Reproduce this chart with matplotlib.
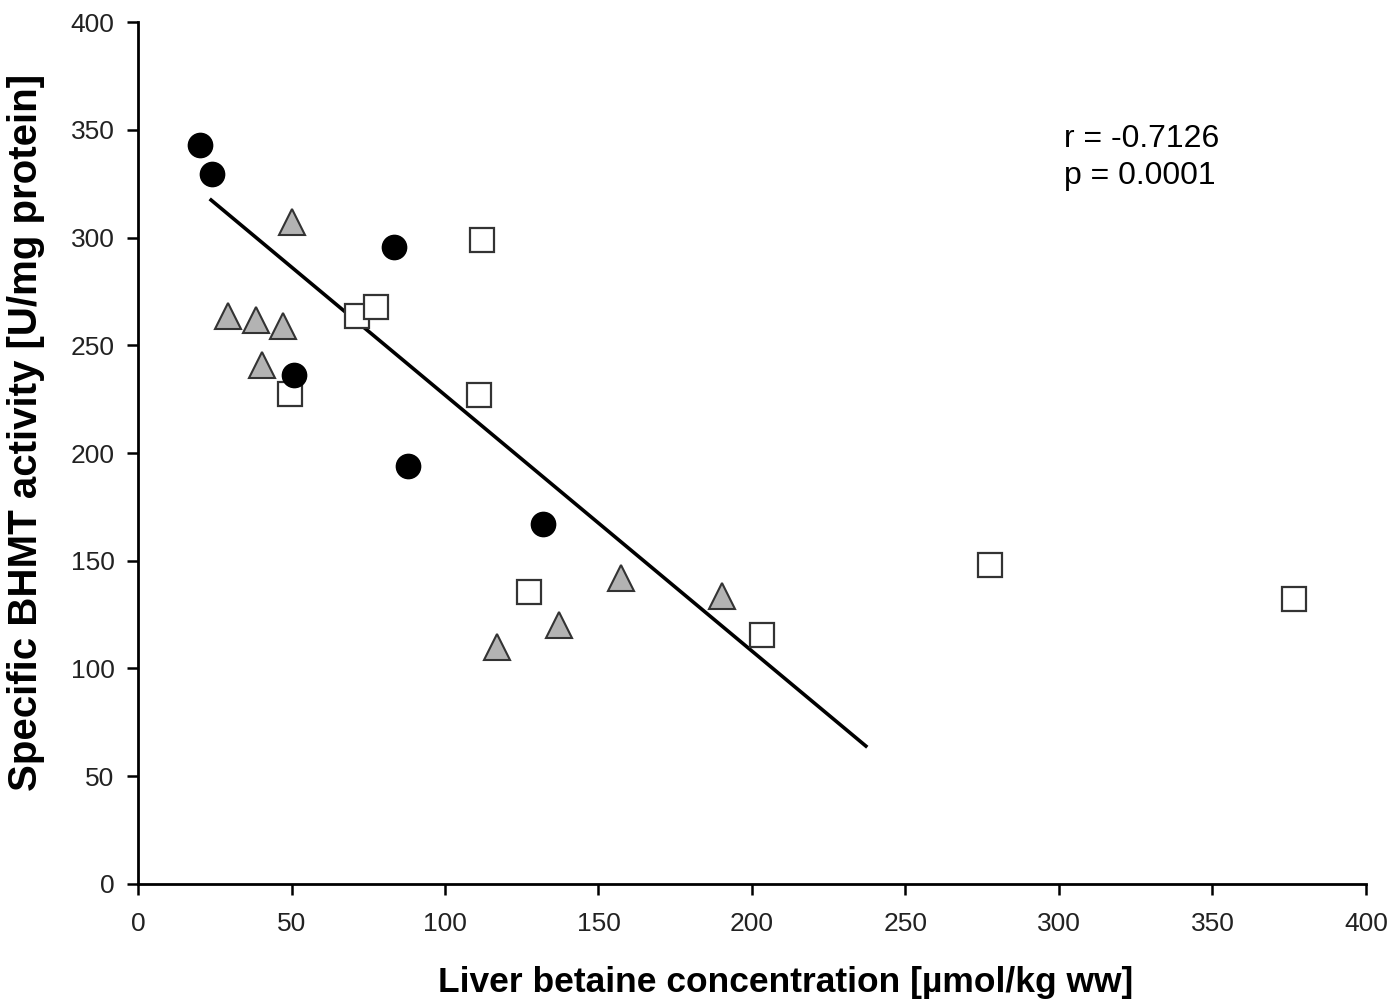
import numpy as np
import matplotlib.pyplot as plt

plt.rcParams['font.family'] = ['Liberation Sans', 'DejaVu Sans']

# filled circles
circ_x = [20.2, 24.1, 83.4, 50.8, 87.9, 131.9]
circ_y = [343, 329.5, 295.6, 236, 194, 167]

# grey triangles
tri_x = [50.2, 29.3, 38.4, 47.2, 40.4, 116.9, 137.1, 157.3, 190.2]
tri_y = [307, 263.5, 261.5, 259, 241, 110, 120.2, 142, 133.5]

# open squares
sq_x = [112, 71.3, 77.5, 49.5, 111, 127.4, 203.3, 277.5, 376.5]
sq_y = [298.8, 263.6, 267.7, 227.4, 227, 135.5, 115.5, 148, 132.3]

# regression line end points
fit_x = [23.8, 237.1]
fit_y = [317.4, 64]

fig = plt.figure(figsize=(13.9, 10.02), dpi=100)
ax = fig.add_axes([0.0993, 0.1178, 0.8834, 0.8602])

ax.plot(fit_x, fit_y, color='black', lw=2.6, zorder=1)
ax.plot(sq_x, sq_y, 's', ms=17.5, mfc='white', mec='#333333', mew=1.6, ls='none', zorder=2)
ax.plot(tri_x, tri_y, '^', ms=19, mfc='#b3b3b3', mec='#333333', mew=1.5, ls='none', zorder=3)
ax.plot(circ_x, circ_y, 'o', ms=17.5, mfc='black', mec='black', ls='none', zorder=4)

ax.set_xlim(0, 400)
ax.set_ylim(0, 400)
ax.set_xticks(np.arange(0, 401, 50))
ax.set_yticks(np.arange(0, 401, 50))
for s in ['top', 'right']:
    ax.spines[s].set_visible(False)
for s in ['left', 'bottom']:
    ax.spines[s].set_linewidth(2)
ax.tick_params(direction='out', length=8, width=1.8, labelsize=19, colors='black')
ax.tick_params(axis='both', labelcolor='#222222')
ax.tick_params(axis='y', pad=9)
ax.tick_params(axis='x', pad=12)

ax.set_xlabel('Liver betaine concentration [µmol/kg ww]', fontsize=25.5, fontweight='bold')
ax.set_ylabel('Specific BHMT activity [U/mg protein]', fontsize=29, fontweight='bold')
ax.xaxis.set_label_coords(0.527, -0.095)
ax.yaxis.set_label_coords(-0.076, 0.524)

ax.text(301.5, 337, 'r = -0.7126\np = 0.0001', fontsize=23, va='center', ha='left', linespacing=1.32)

fig.savefig('out.png', dpi=100)
